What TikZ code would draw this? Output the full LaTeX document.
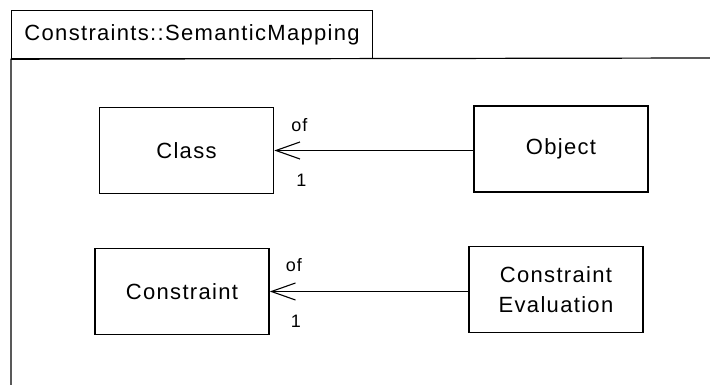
\documentclass[tikz,border=0pt]{standalone}
\usepackage{fontspec}
\setmainfont{Liberation Sans}[LetterSpace=6]
\usepackage{tikz}
\usetikzlibrary{arrows.meta,positioning}
\tikzset{
  pkgtab/.style={
    rectangle,
    draw=black,
    line width=1.2pt,
    minimum width=361pt,
    minimum height=48pt,
    inner sep=0pt,
    font=\fontsize{22}{26}\selectfont
  },
  classbox/.style={
    rectangle,
    draw=black,
    fill=white,
    line width=1.6pt,
    minimum width=174pt,
    minimum height=86pt,
    inner sep=0pt,
    align=center,
    font=\fontsize{22}{30}\selectfont
  },
  mult/.style={
    inner sep=0pt,
    font=\fontsize{18}{20}\selectfont
  },
  assoc/.style={
    line width=1.1pt,
    -{Straight Barb[length=24pt,width=17pt]}
  }
}

\begin{document}
\begin{tikzpicture}[x=1pt,y=-1pt]
  \useasboundingbox (0,0) rectangle (710,385);

  % package frame
  \node[pkgtab, anchor=north west] (pkg) at (11,10) {Constraints::SemanticMapping};
  \draw[line width=1.2pt] (11,385) -- (pkg.south west) -- (710,58);

  % classes
  \node[classbox] (cls) at (186.5,150.5) {Class};
  \node[classbox] (obj) at (561,149) {Object};
  \node[classbox] (cons) at (182,291.5) {Constraint};
  \node[classbox] (eval) at (556,289.5) {Constraint\\Evaluation};

  % associations
  \draw[assoc] (obj.west |- cls.east) -- (cls.east);
  \node[mult] (cls-role) at ([xshift=25pt,yshift=25pt]cls.east) {of};
  \node[mult] (cls-mult) at ([xshift=27pt,yshift=-30pt]cls.east) {1};

  \draw[assoc] (eval.west |- cons.east) -- (cons.east);
  \node[mult] (cons-role) at ([xshift=24pt,yshift=26pt]cons.east) {of};
  \node[mult] (cons-mult) at ([xshift=26pt,yshift=-30pt]cons.east) {1};
\end{tikzpicture}
\end{document}
